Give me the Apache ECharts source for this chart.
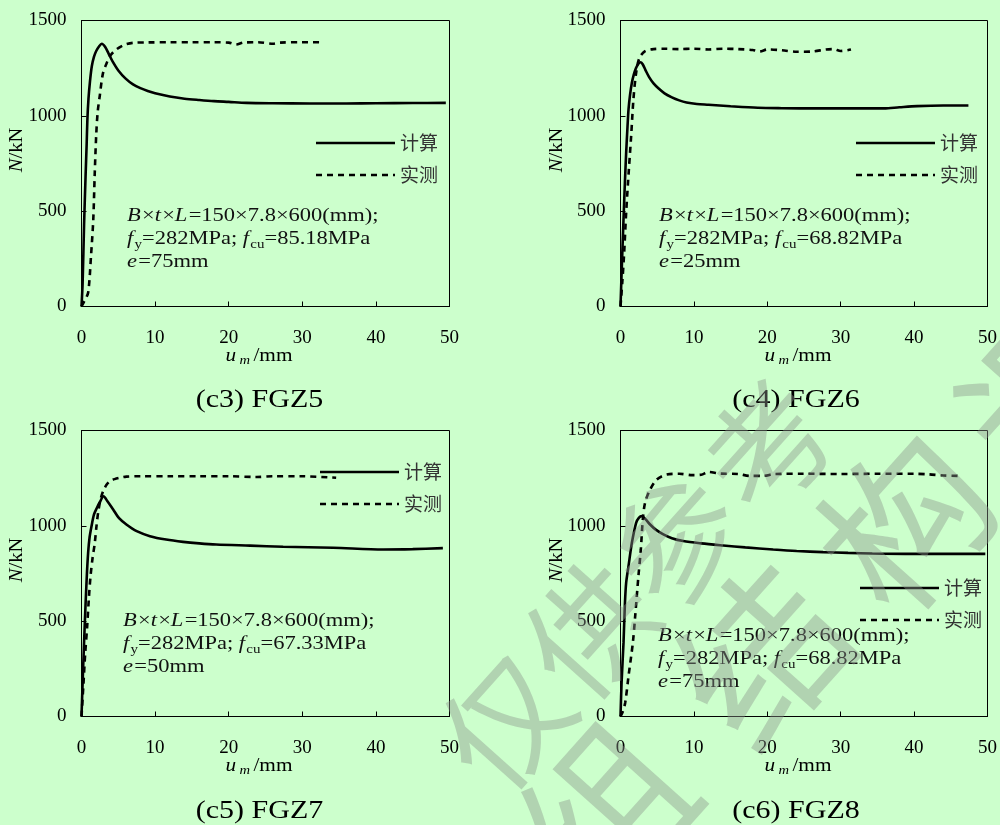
<!DOCTYPE html>
<html><head><meta charset="utf-8">
<script src="https://cdn.jsdelivr.net/npm/echarts@6.0.0/dist/echarts.min.js"></script>
<style>html,body{margin:0;padding:0;background:#ccffcc;}#c{width:1000px;height:825px;}</style>
</head><body><div id="c"></div>
<script>
// ---------- data ----------
const panelTitles = ['(c3) FGZ5', '(c4) FGZ6', '(c5) FGZ7', '(c6) FGZ8'];
const seriesNames = ['计算', '实测'];
const fcuValues = ['85.18', '68.82', '67.33', '68.82'];
const eValues = ['75', '25', '50', '75'];
const xTicks = [0, 10, 20, 30, 40, 50];
const yTicks = [0, 500, 1000, 1500];

// (c3) FGZ5
const c3CalcU = [0,0.15,0.35,0.55,0.7,0.8,0.95,1.15,1.4,1.7,2.0,2.4,2.75,3.2,3.7,4.3,5,6,7,8,9,10,12,14,16,18,20,22.4,26,31,36,40,45,49.5];
const c3CalcN = [0,120,430,680,850,980,1090,1180,1260,1310,1340,1365,1378,1362,1325,1280,1238,1195,1165,1145,1130,1118,1101,1090,1083,1077,1073,1068,1066,1065,1065,1066,1067,1068];
const c3TestU = [0,0.4,0.9,1.3,1.6,1.8,2.0,2.2,2.5,2.9,3.4,4.0,4.8,5.8,7,9,12,15,18,20,21,22,24,26,27,30,32.5];
const c3TestN = [0,30,72,270,456,700,900,1020,1110,1220,1275,1320,1350,1372,1383,1385,1386,1386,1386,1384,1374,1384,1386,1378,1384,1386,1386];
// (c4) FGZ6
const c4CalcU = [0,0.2,0.41,0.6,0.77,0.95,1.09,1.3,1.55,1.8,2.1,2.4,2.7,3.0,3.4,3.9,4.5,5.2,6,7,8,9,10.4,12,15,18.7,22,26.8,30,35.9,38,40.4,44,47.4];
const c4CalcN = [0,230,456,650,806,940,1033,1110,1173,1215,1250,1271,1281,1272,1240,1203,1170,1143,1118,1097,1081,1070,1062,1058,1050,1042,1040,1039,1039,1039,1045,1051,1054,1054];
const c4TestU = [0,0.25,0.5,0.77,1.14,1.45,1.76,2.13,2.58,3.35,4.5,6,8,10,12,14,16,18,19,20,22,24,26,28,29,30,31.4];
const c4TestN = [0,130,282,491,718,893,1086,1226,1304,1339,1350,1352,1350,1352,1348,1352,1350,1345,1338,1348,1344,1336,1337,1348,1350,1340,1348];
// (c5) FGZ7
const c5CalcU = [0,0.2,0.45,0.7,0.9,1.1,1.36,1.7,2.1,2.5,3.0,3.5,4.3,5.1,6.1,7.5,9.3,11.5,13.8,16,18.3,22.9,27.4,34.2,41,45,49.1];
const c5CalcN = [0,230,491,720,858,940,998,1060,1095,1125,1155,1130,1086,1040,1007,972,946,928,916,908,902,896,890,885,876,878,883];
const c5TestU = [0,0.25,0.5,0.77,1.0,1.22,1.5,1.8,2.04,2.3,2.6,2.94,3.4,3.85,4.5,5.2,6.1,8,12,16,20,23.8,26,30,34.6];
const c5TestN = [0,160,330,472,620,733,830,908,1000,1080,1140,1182,1215,1234,1245,1252,1258,1260,1260,1260,1260,1256,1260,1260,1252];
// (c6) FGZ8
const c6CalcU = [0,0.15,0.41,0.6,0.77,1.09,1.55,2.13,2.5,2.9,3.4,4.03,4.8,5.84,7,8.55,11,14,17,20.8,24,27.6,31,34.3,38.8,44,49.7];
const c6CalcN = [0,180,386,590,701,788,911,1016,1042,1051,1035,1007,980,955,935,920,908,897,887,876,868,862,858,855,853,853,853];
const c6TestU = [0,0.3,0.64,1.09,1.68,2.0,2.44,2.77,3.04,3.35,4.03,4.94,6.3,8,9.8,11,12,13.5,16,17.6,19.5,21,25,30,35,40,42,44,46.1];
const c6TestN = [0,25,72,211,386,526,736,876,1033,1121,1190,1243,1269,1273,1266,1268,1283,1274,1272,1262,1262,1272,1273,1272,1273,1273,1270,1264,1262];

const watermarkLine1 = '仅供参考';
const watermarkLine2 = '组结构调';

// ---------- layout ----------
const calcU = [c3CalcU, c4CalcU, c5CalcU, c6CalcU];
const calcN = [c3CalcN, c4CalcN, c5CalcN, c6CalcN];
const testU = [c3TestU, c4TestU, c5TestU, c6TestU];
const testN = [c3TestN, c4TestN, c5TestN, c6TestN];
const gridPos = [[81.5, 20.5], [620.5, 20.5], [81.5, 430.5], [620.5, 430.5]];
const legendPos = [[316, 143], [856, 143], [320, 472], [860, 588]];
const notePos = [[127, 205], [659, 205], [123, 610], [658, 625]];
const titlePos = [[259.5, 400], [796, 400], [259.5, 811], [796, 811]];
const yNamePos = [[17, 150], [557, 150], [17, 560], [557, 560]];
const xNamePos = [[259, 356], [798, 356], [259, 766], [798, 766]];

const serif = 'Liberation Serif';
const zip = (a, b) => a.map((v, i) => [v, b[i]]);
const dashPattern = [6, 5];

const grids = [], xAxes = [], yAxes = [], series = [], graphics = [];
for (let i = 0; i < 4; i++) {
  grids.push({ left: gridPos[i][0], top: gridPos[i][1], width: 368, height: 286, show: true,
    borderColor: '#000', borderWidth: 1, backgroundColor: 'transparent' });
  xAxes.push({ gridIndex: i, type: 'value', min: xTicks[0], max: xTicks[xTicks.length - 1], interval: xTicks[1] - xTicks[0],
    axisLine: { show: true, onZero: false, lineStyle: { color: '#000', width: 1 } },
    axisTick: { show: true, inside: true, length: 5, lineStyle: { color: '#000', width: 1 } },
    splitLine: { show: false },
    axisLabel: { fontFamily: serif, fontSize: 19, color: '#000', margin: 22, formatter: v => String(v) } });
  yAxes.push({ gridIndex: i, type: 'value', min: yTicks[0], max: yTicks[yTicks.length - 1], interval: yTicks[1] - yTicks[0],
    axisLine: { show: true, onZero: false, lineStyle: { color: '#000', width: 1 } },
    axisTick: { show: true, inside: true, length: 5, lineStyle: { color: '#000', width: 1 } },
    splitLine: { show: false },
    axisLabel: { fontFamily: serif, fontSize: 19, color: '#000', margin: 15, formatter: v => String(v) } });
  series.push({ name: seriesNames[0], type: 'line', xAxisIndex: i, yAxisIndex: i, data: zip(calcU[i], calcN[i]),
    symbol: 'none', smooth: 0.3, lineStyle: { color: '#000', width: 2.6, type: 'solid' },
    itemStyle: { color: '#000' }, z: 3 });
  series.push({ name: seriesNames[1], type: 'line', xAxisIndex: i, yAxisIndex: i, data: zip(testU[i], testN[i]),
    symbol: 'none', smooth: 0.3, lineStyle: { color: '#000', width: 2.6, type: dashPattern },
    itemStyle: { color: '#000' }, z: 3 });
  // legend (drawn)
  const lx = legendPos[i][0], ly = legendPos[i][1];
  graphics.push({ type: 'line', z: 10, shape: { x1: lx, y1: ly, x2: lx + 79, y2: ly },
    style: { stroke: '#000', lineWidth: 2.6 } });
  graphics.push({ type: 'line', z: 10, shape: { x1: lx, y1: ly + 32, x2: lx + 79, y2: ly + 32 },
    style: { stroke: '#000', lineWidth: 2.6, lineDash: dashPattern } });
  graphics.push({ type: 'text', z: 10, x: lx + 84, y: ly,
    style: { text: seriesNames[0], fontFamily: 'Noto Sans CJK SC', fontSize: 19, fill: '#333', textAlign: 'left', textVerticalAlign: 'middle' } });
  graphics.push({ type: 'text', z: 10, x: lx + 84, y: ly + 32,
    style: { text: seriesNames[1], fontFamily: 'Noto Sans CJK SC', fontSize: 19, fill: '#333', textAlign: 'left', textVerticalAlign: 'middle' } });
  // annotation
  graphics.push({ type: 'text', x: notePos[i][0], y: notePos[i][1], scaleX: 1.25, z: 10,
    style: {
      text: '{i|B}{n|×}{i|t}{n|×}{i|L}{n|=150×7.8×600(mm);}\n{i|f}{s|y}{n|=282MPa; }{i|f}{s|cu}{n|=' + fcuValues[i] + 'MPa}\n{i|e}{n|=' + eValues[i] + 'mm}',
      textAlign: 'left', textVerticalAlign: 'top', fill: '#111',
      rich: {
        n: { fontFamily: serif, fontSize: 18, lineHeight: 23, fill: '#111' },
        i: { fontFamily: serif, fontSize: 18, lineHeight: 23, fontStyle: 'italic', fill: '#111', padding: [0, 1, 0, 0] },
        s: { fontFamily: serif, fontSize: 12, lineHeight: 12, verticalAlign: 'bottom', fill: '#111' }
      } } });
  // panel title
  graphics.push({ type: 'text', x: titlePos[i][0], y: titlePos[i][1], scaleX: 1.2, z: 10,
    style: { text: panelTitles[i], fontFamily: serif, fontSize: 25, fill: '#000', textAlign: 'center', textVerticalAlign: 'middle' } });
  // y axis name
  graphics.push({ type: 'text', x: yNamePos[i][0], y: yNamePos[i][1], rotation: Math.PI / 2, scaleX: 1.08, z: 10,
    style: { text: '{i|N}{n|/kN}', textAlign: 'center', textVerticalAlign: 'middle',
      rich: { i: { fontFamily: serif, fontSize: 19, fontStyle: 'italic', fill: '#000' },
              n: { fontFamily: serif, fontSize: 19, fill: '#000' } } } });
  // x axis name
  graphics.push({ type: 'text', x: xNamePos[i][0], y: xNamePos[i][1], scaleX: 1.12, z: 10,
    style: { text: '{i|u}{s|m}{n|/mm}', textAlign: 'center', textVerticalAlign: 'middle',
      rich: { i: { fontFamily: serif, fontSize: 19, lineHeight: 22, fontStyle: 'italic', fill: '#000', padding: [0, 3, 0, 0] },
              s: { fontFamily: serif, fontSize: 13, lineHeight: 12, fontStyle: 'italic', verticalAlign: 'bottom', fill: '#000' },
              n: { fontFamily: serif, fontSize: 19, lineHeight: 22, fill: '#000', padding: [0, 0, 0, 3] } } } });
}
// watermark
const wm1 = [[505, 722], [590, 630], [675, 540], [768, 447]];
const wm2 = [[605, 812], [762, 655], [905, 522], [1045, 392]];
const wmFill = 'rgba(140,150,140,0.42)';
watermarkLine1.split('').forEach((ch, k) => graphics.push({ type: 'text', x: wm1[k][0], y: wm1[k][1], rotation: 0.84, z: 50, silent: true,
  style: { text: ch, fontFamily: 'Noto Sans CJK SC', fontSize: 125, fill: wmFill, textAlign: 'center', textVerticalAlign: 'middle' } }));
watermarkLine2.split('').forEach((ch, k) => graphics.push({ type: 'text', x: wm2[k][0], y: wm2[k][1], rotation: 0.84, z: 50, silent: true,
  style: { text: ch, fontFamily: 'Noto Sans CJK SC', fontSize: 165, fill: wmFill, textAlign: 'center', textVerticalAlign: 'middle' } }));

const chart = echarts.init(document.getElementById('c'), null, { renderer: 'canvas' });
chart.setOption({
  backgroundColor: '#ccffcc',
  animation: false,
  grid: grids, xAxis: xAxes, yAxis: yAxes, series: series,
  graphic: { elements: graphics }
});
</script></body></html>
